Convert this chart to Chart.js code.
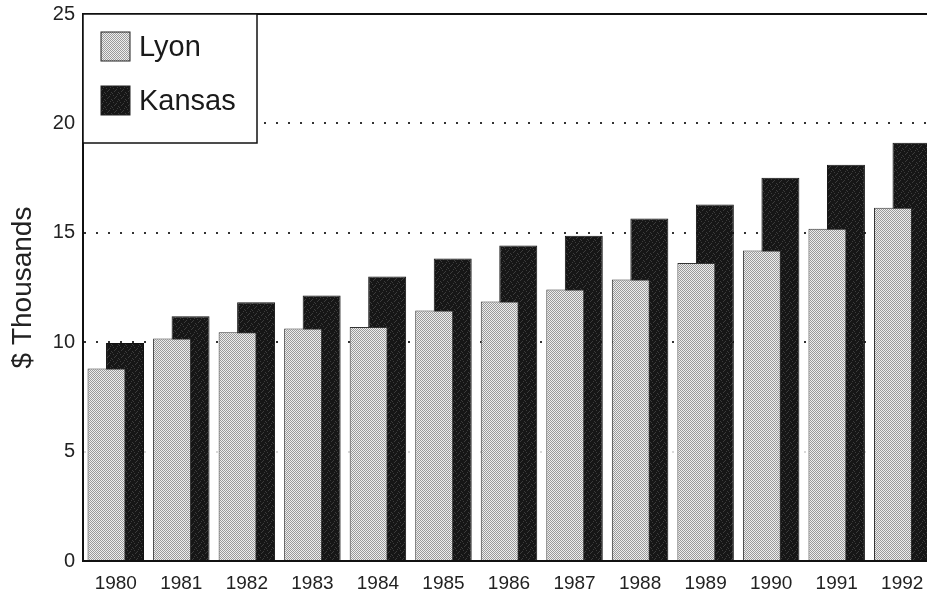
<!DOCTYPE html>
<html>
<head>
<meta charset="utf-8">
<script src="https://cdn.jsdelivr.net/npm/chart.js@4.4.1/dist/chart.umd.min.js"></script>
<style>
  html, body { margin: 0; padding: 0; background: #fff; overflow: hidden; }
  #wrap { width: 927px; height: 603px; overflow: hidden; }
  #chart { display: block; margin-top: -4px; }
</style>
</head>
<body>
<div id="wrap"><canvas id="chart" width="935" height="607"></canvas></div>
<script>
// Data ($ thousands)
var years = ['1980','1981','1982','1983','1984','1985','1986','1987','1988','1989','1990','1991','1992'];
var lyon = [8.8, 10.17, 10.45, 10.63, 10.7, 11.45, 11.86, 12.41, 12.86, 13.62, 14.19, 15.19, 16.15];
var kansas = [9.96, 11.19, 11.83, 12.13, 13.0, 13.82, 14.42, 14.87, 15.65, 16.29, 17.52, 18.11, 19.11];
var yTicks = [0, 5, 10, 15, 20, 25];

var FONT = "'Liberation Sans', Arial, Helvetica, sans-serif";

// stipple textures for the bars
function makePattern(bg, dot, size, cells) {
  var c = document.createElement('canvas');
  c.width = size; c.height = size;
  var g = c.getContext('2d');
  g.fillStyle = bg;
  g.fillRect(0, 0, size, size);
  g.fillStyle = dot;
  cells.forEach(function(p) { g.fillRect(p[0], p[1], 1, 1); });
  return g.createPattern(c, 'repeat');
}
var ctx = document.getElementById('chart').getContext('2d');
var lyonFill = makePattern('#eeeeee', '#9a9a9a', 2, [[0,0],[1,1]]);
var kansasFill = makePattern('#161616', '#3c3c3c', 7, [[1,1],[4,2],[2,4],[6,5],[5,0],[0,6],[3,3]]);

// legend inside the plot, top left + top frame line
var boxLegend = {
  id: 'boxLegend',
  afterDraw: function(chart) {
    var c = chart.ctx, a = chart.chartArea;
    c.save();
    c.strokeStyle = '#111';
    c.lineWidth = 2;
    c.beginPath();
    c.moveTo(a.left, a.top);
    c.lineTo(a.right, a.top);
    c.stroke();
    var x = a.left, y = a.top, w = 174, h = 129;
    c.fillStyle = '#fff';
    c.fillRect(x, y, w, h);
    c.lineWidth = 1.5;
    c.strokeRect(x, y, w, h);
    c.font = '29px ' + FONT;
    c.textBaseline = 'middle';
    chart.data.datasets.forEach(function(ds, i) {
      var sy = y + 18 + i * 54;
      c.fillStyle = ds.backgroundColor;
      c.fillRect(x + 18, sy, 29, 29);
      c.strokeStyle = '#222';
      c.lineWidth = 1;
      c.strokeRect(x + 18, sy, 29, 29);
      c.fillStyle = '#1a1a1a';
      c.fillText(ds.label, x + 56, sy + 16);
    });
    c.restore();
  }
};

new Chart(ctx, {
  type: 'bar',
  data: {
    labels: years,
    datasets: [
      {
        label: 'Lyon',
        data: lyon,
        backgroundColor: lyonFill,
        borderColor: '#333',
        borderWidth: 1
      },
      {
        label: 'Kansas',
        data: kansas,
        backgroundColor: kansasFill,
        borderColor: '#111',
        borderWidth: 1
      }
    ]
  },
  options: {
    responsive: false,
    animation: false,
    categoryPercentage: 0.565,
    barPercentage: 2.05,
    layout: { padding: { top: 0, right: 0, left: 0, bottom: 0 } },
    plugins: {
      legend: { display: false },
      tooltip: { enabled: false }
    },
    scales: {
      x: {
        grid: { display: false, drawTicks: false },
        border: { display: true, color: '#111', width: 2 },
        ticks: { color: '#222', font: { family: FONT, size: 19 }, padding: 11, maxRotation: 0 },
        afterFit: function(scale) { scale.height = 42; }
      },
      y: {
        min: 0,
        max: 25,
        afterBuildTicks: function(scale) {
          scale.ticks = yTicks.map(function(v) { return { value: v }; });
        },
        grid: {
          drawTicks: false,
          lineWidth: 2,
          color: function(c) {
            var v = c.tick ? c.tick.value : 0;
            if (v == 10 || v == 15 || v == 20) return '#333';
            if (v == 5) return 'rgba(0,0,0,0.15)';
            return 'rgba(0,0,0,0)';
          }
        },
        border: { display: true, color: '#111', width: 2, dash: [2, 10] },
        ticks: { color: '#222', font: { family: FONT, size: 20, lineHeight: 1 }, padding: 8 },
        title: {
          display: true,
          text: '$ Thousands',
          color: '#222',
          font: { family: FONT, size: 28 },
          padding: { top: 6, bottom: 0 }
        },
        afterFit: function(scale) { scale.width = 83; }
      }
    }
  },
  plugins: [boxLegend]
});
</script>
</body>
</html>
